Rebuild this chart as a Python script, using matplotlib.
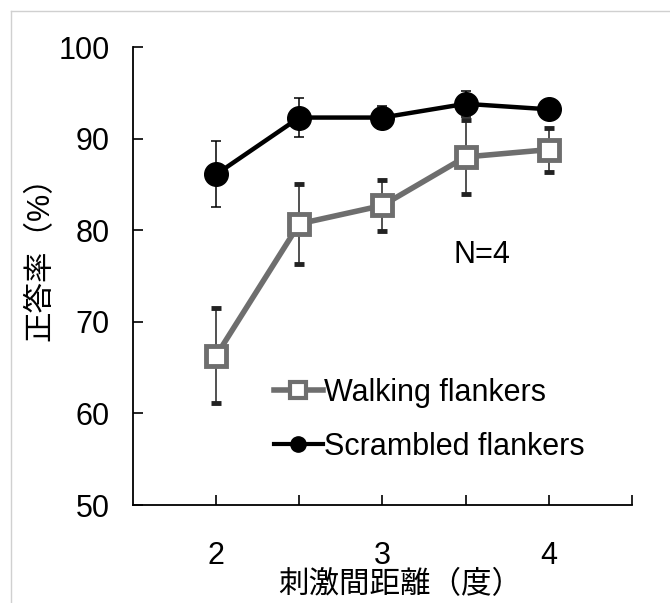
import matplotlib
matplotlib.use("Agg")
import matplotlib.pyplot as plt
from matplotlib.lines import Line2D

plt.rcParams["font.family"] = ["Liberation Sans", "Noto Sans CJK JP", "DejaVu Sans"]

# 刺激間距離（度）
distance = [2.0, 2.5, 3.0, 3.5, 4.0]

walking_mean = [66.3, 80.7, 82.7, 88.0, 88.8]
walking_err = [5.2, 4.4, 2.8, 4.0, 2.4]

scrambled_mean = [86.1, 92.3, 92.3, 93.8, 93.2]
scrambled_err = [3.6, 2.1, 1.3, 1.4, 0.8]

y_ticks = [50, 60, 70, 80, 90, 100]
x_ticks = [2, 3, 4]
x_minor = [2.5, 3.5, 4.5]

FS = 22

fig = plt.figure(figsize=(6.7, 6.03), dpi=100)
ax = fig.add_axes([0.1985, 0.1625, 0.7445, 0.7595])

# light frame around the figure
fig.add_artist(Line2D([11 / 670, 1.0], [1 - 11 / 603, 1 - 11 / 603],
                      transform=fig.transFigure, color="#d0d0d0", linewidth=1))
fig.add_artist(Line2D([11 / 670, 11 / 670], [0.0, 1 - 11 / 603],
                      transform=fig.transFigure, color="#d0d0d0", linewidth=1))

ax.errorbar(distance, walking_mean, yerr=walking_err, color="#6e6e6e",
            ecolor="#222222", elinewidth=1.1, capsize=3.5, capthick=1.1,
            linewidth=4, marker="s", markersize=15, markerfacecolor="white",
            markeredgecolor="#6e6e6e", markeredgewidth=3.5, zorder=3,
            label="Walking flankers")
ax.errorbar(distance, scrambled_mean, yerr=scrambled_err, color="black",
            ecolor="black", elinewidth=1.1, capsize=3.5, capthick=1.1,
            linewidth=3.2, marker="o", markersize=17, markerfacecolor="black",
            markeredgecolor="black", zorder=4, label="Scrambled flankers")

ax.set_xlim(1.5, 4.5)
ax.set_ylim(50, 100)
ax.set_yticks(y_ticks)
ax.set_xticks(x_ticks)
ax.set_xticks(x_minor, minor=True)
ax.tick_params(axis="both", which="both", direction="in", length=7,
               width=1.2, labelsize=FS)
ax.tick_params(axis="x", pad=26)
ax.tick_params(axis="y", pad=17)

for side in ["top", "right"]:
    ax.spines[side].set_visible(False)
for side in ["left", "bottom"]:
    ax.spines[side].set_linewidth(1.3)

ax.set_ylabel("正答率（%）", fontsize=FS, va="center")
ax.yaxis.set_label_coords(-0.186, 0.555)
ax.set_xlabel("刺激間距離（度）", fontsize=FS, va="center")
ax.xaxis.set_label_coords(0.535, -0.175)

ax.text(3.6, 77.3, "N=4", fontsize=FS, ha="center", va="center")

handles, labels = ax.get_legend_handles_labels()
h_walk = Line2D([], [], color="#6e6e6e", linewidth=4, marker="s",
                markersize=11, markerfacecolor="white",
                markeredgecolor="#6e6e6e", markeredgewidth=3)
h_scr = Line2D([], [], color="black", linewidth=3, marker="o",
               markersize=11, markerfacecolor="black")
ax.legend([h_walk, h_scr], labels, loc="upper left",
          bbox_to_anchor=(0.258, 0.305), frameon=False, fontsize=FS,
          handlelength=1.6, handletextpad=0.05, labelspacing=0.8,
          borderaxespad=0)

fig.savefig("out.png", dpi=100, facecolor="white")
